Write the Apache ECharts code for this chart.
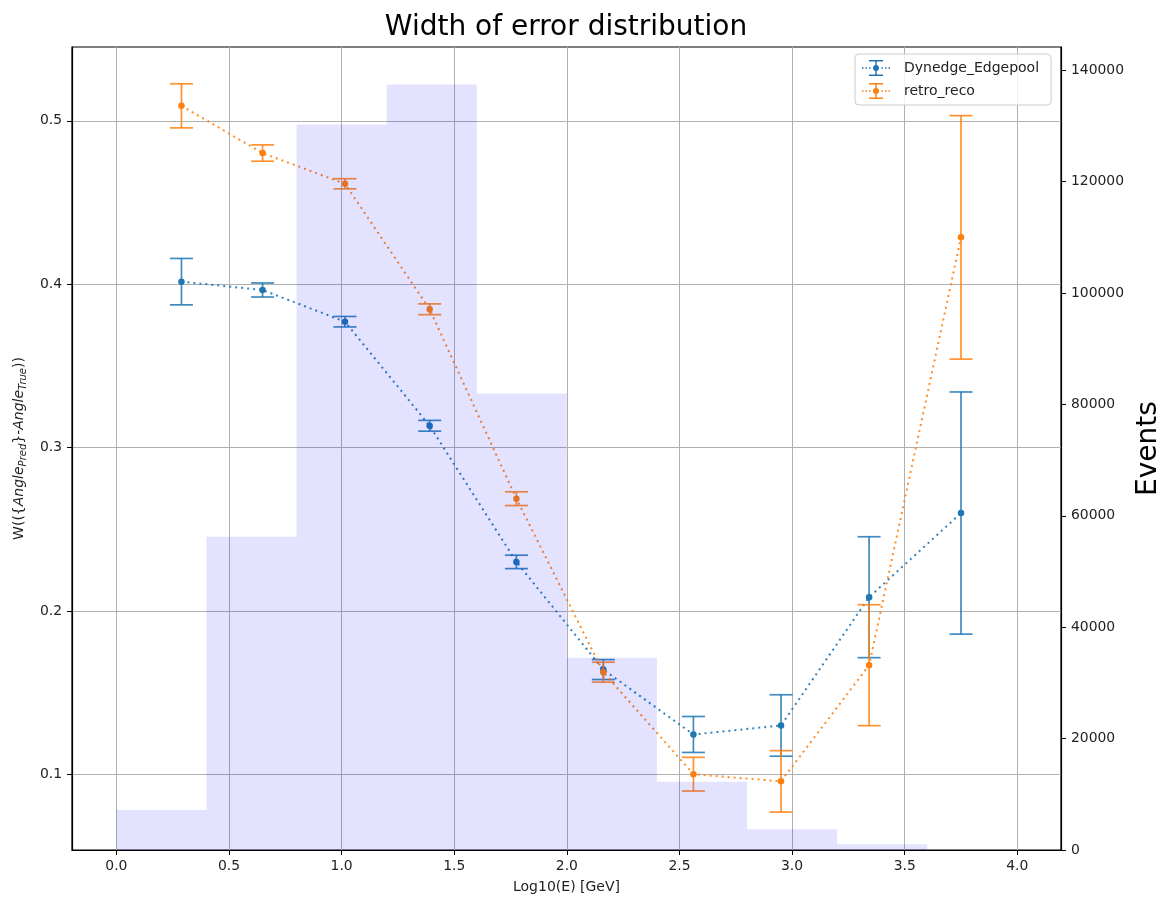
<!DOCTYPE html>
<html>
<head>
<meta charset="utf-8">
<script src="https://cdn.jsdelivr.net/npm/echarts@6/dist/echarts.min.js"></script>
<style>
  html, body { margin: 0; padding: 0; background: #fff; }
  #chart { width: 1163px; height: 900px; }
</style>
</head>
<body>
<div id="chart"></div>
<script>
// Energy bin centres, log10(E / GeV)
const energyBins = [0.289, 0.649, 1.015, 1.391, 1.776, 2.162, 2.562, 2.951, 3.342, 3.750];

// Width of the angular error distribution per bin, with its uncertainty
const dynedgeWidth = [0.4016, 0.3965, 0.3771, 0.3134, 0.2301, 0.1642, 0.1245, 0.1300, 0.2085, 0.2600];
const dynedgeErr   = [0.0142, 0.0043, 0.0032, 0.0033, 0.0041, 0.0061, 0.0110, 0.0188, 0.0370, 0.0741];
const retroWidth   = [0.5092, 0.4803, 0.4615, 0.3847, 0.2688, 0.1626, 0.1002, 0.0958, 0.1669, 0.4287];
const retroErr     = [0.0135, 0.0050, 0.0031, 0.0033, 0.0042, 0.0061, 0.0103, 0.0188, 0.0370, 0.0745];

// Event-count histogram
const histEdges  = [0.0, 0.4, 0.8, 1.2, 1.6, 2.0, 2.4, 2.8, 3.2, 3.6];
const histCounts = [7180, 56240, 130260, 137440, 81970, 34520, 12260, 3710, 1020];

// Tick positions
const xTicks     = [0.0, 0.5, 1.0, 1.5, 2.0, 2.5, 3.0, 3.5, 4.0];
const widthTicks = [0.1, 0.2, 0.3, 0.4, 0.5];
const eventTicks = [0, 20000, 40000, 60000, 80000, 100000, 120000, 140000];

const BLUE = '#1f77b4';
const ORANGE = '#ff7f0e';
const FONT = 'DejaVu Sans';

// Legend glyph: dotted line, error bar with caps, and a dot
const errIcon = 'path://' +
  'M7,0H21V1.5H7Z M7,14.5H21V16H7Z M13.25,0H14.75V16H13.25Z ' +
  'M0,7.25H1.5V8.75H0Z M3.5,7.25H5V8.75H3.5Z M7,7.25H8.5V8.75H7Z ' +
  'M19.5,7.25H21V8.75H19.5Z M23,7.25H24.5V8.75H23Z M26.5,7.25H28V8.75H26.5Z ' +
  'M11,8A3,3 0 1,1 17,8A3,3 0 1,1 11,8Z';

function errorBarRenderer(color) {
  return function (params, api) {
    const x = api.value(0);
    const top = api.coord([x, api.value(2)]);
    const bot = api.coord([x, api.value(1)]);
    const half = 11.5;
    const style = { stroke: color, lineWidth: 1.7, opacity: 0.85 };
    return {
      type: 'group',
      children: [
        { type: 'line', shape: { x1: top[0], y1: top[1], x2: bot[0], y2: bot[1] }, style },
        { type: 'line', shape: { x1: top[0] - half, y1: top[1], x2: top[0] + half, y2: top[1] }, style },
        { type: 'line', shape: { x1: bot[0] - half, y1: bot[1], x2: bot[0] + half, y2: bot[1] }, style }
      ]
    };
  };
}

function histRenderer(params, api) {
  const p0 = api.coord([api.value(0), api.value(2)]);
  const p1 = api.coord([api.value(1), 0]);
  return {
    type: 'rect',
    shape: { x: p0[0], y: p0[1], width: p1[0] - p0[0], height: p1[1] - p0[1] },
    style: { fill: 'rgba(0,0,255,0.11)' }
  };
}

const points = (ys) => energyBins.map((x, i) => [x, ys[i]]);
const bars = (ys, es) => energyBins.map((x, i) => [x, ys[i] - es[i], ys[i] + es[i]]);

const tickLabel = { fontFamily: FONT, fontSize: 13.9, color: '#222' };

const chart = echarts.init(document.getElementById('chart'), null, { renderer: 'canvas' });

chart.setOption({
  animation: false,
  backgroundColor: '#fff',
  textStyle: { fontFamily: FONT },
  grid: {
    left: 72, right: 102, top: 47, bottom: 50,
    outerBoundsMode: 'none', containLabel: false,
    show: true, borderColor: '#000', borderWidth: 1.2, backgroundColor: 'transparent'
  },
  graphic: [{
    type: 'text', x: 566, y: 28, z: 100,
    style: {
      text: 'Width of error distribution', fill: '#000',
      font: '28px "DejaVu Sans"', textAlign: 'center', textVerticalAlign: 'middle'
    }
  }],
  legend: {
    orient: 'vertical', left: 855, top: 54,
    padding: [6, 12, 6, 7], itemGap: 7, itemWidth: 28, itemHeight: 16,
    backgroundColor: 'rgba(255,255,255,0.8)', borderColor: '#cccccc', borderWidth: 1, borderRadius: 4,
    textStyle: { fontFamily: FONT, fontSize: 14, color: '#222', padding: [0, 0, 0, 9] },
    itemStyle: { borderWidth: 0 },
    data: [
      { name: 'Dynedge_Edgepool', icon: errIcon, itemStyle: { color: BLUE } },
      { name: 'retro_reco', icon: errIcon, itemStyle: { color: ORANGE } }
    ],
    z: 50
  },
  xAxis: {
    type: 'value', min: -0.197, max: 4.194,
    name: 'Log10(E) [GeV]', nameLocation: 'middle', nameGap: 30,
    nameTextStyle: { fontFamily: FONT, fontSize: 14, color: '#222' },
    axisLine: { show: true, onZero: false, lineStyle: { color: '#000', width: 1.2 } },
    axisTick: { show: true, inside: false, length: 5, customValues: xTicks, lineStyle: { color: '#000', width: 1 } },
    axisLabel: { ...tickLabel, margin: 9, customValues: xTicks, formatter: (v) => v.toFixed(1) },
    splitLine: { show: true, lineStyle: { color: '#b0b0b0', width: 1 } }
  },
  yAxis: [
    {
      type: 'value', position: 'left', min: 0.0538, max: 0.5452,
      name: 'W(({{i|Angle}{s|Pred}}-{i|Angle}{s|True}))',
      nameLocation: 'middle', nameRotate: 90, nameGap: 44,
      nameTextStyle: {
        fontFamily: FONT, fontSize: 14, color: '#222', lineHeight: 18,
        rich: {
          i: { fontFamily: FONT, fontSize: 14, fontStyle: 'italic', color: '#222' },
          s: { fontFamily: FONT, fontSize: 10, fontStyle: 'italic', color: '#222', verticalAlign: 'bottom' }
        }
      },
      axisLine: { show: true, onZero: false, lineStyle: { color: '#000', width: 1.2 } },
      axisTick: { show: true, inside: false, length: 5, customValues: widthTicks, lineStyle: { color: '#000', width: 1 } },
      axisLabel: { ...tickLabel, margin: 10, customValues: widthTicks, formatter: (v) => v.toFixed(1) },
      splitLine: { show: true, lineStyle: { color: '#b0b0b0', width: 1 } }
    },
    {
      type: 'value', position: 'right', min: 0, max: 144180,
      name: 'Events', nameLocation: 'middle', nameRotate: 90, nameGap: 70,
      nameTextStyle: { fontFamily: FONT, fontSize: 28, color: '#000' },
      axisLine: { show: true, onZero: false, lineStyle: { color: '#000', width: 1.2 } },
      axisTick: { show: true, inside: false, length: 5, customValues: eventTicks, lineStyle: { color: '#000', width: 1 } },
      axisLabel: { ...tickLabel, margin: 10, customValues: eventTicks, formatter: (v) => String(v) },
      splitLine: { show: false }
    }
  ],
  series: [
    {
      name: 'Dynedge_Edgepool', type: 'line', xAxisIndex: 0, yAxisIndex: 0, z: 3,
      data: points(dynedgeWidth),
      symbol: 'circle', symbolSize: 6.5, showSymbol: true,
      itemStyle: { color: BLUE },
      lineStyle: { color: BLUE, width: 2, type: [2, 4], opacity: 0.9 }
    },
    {
      name: 'Dynedge_Edgepool', type: 'custom', xAxisIndex: 0, yAxisIndex: 0, z: 3,
      data: bars(dynedgeWidth, dynedgeErr),
      encode: { x: 0, y: [1, 2] },
      itemStyle: { color: BLUE },
      renderItem: errorBarRenderer(BLUE)
    },
    {
      name: 'retro_reco', type: 'line', xAxisIndex: 0, yAxisIndex: 0, z: 4,
      data: points(retroWidth),
      symbol: 'circle', symbolSize: 6.5, showSymbol: true,
      itemStyle: { color: ORANGE },
      lineStyle: { color: ORANGE, width: 2, type: [2, 4], opacity: 0.9 }
    },
    {
      name: 'retro_reco', type: 'custom', xAxisIndex: 0, yAxisIndex: 0, z: 4,
      data: bars(retroWidth, retroErr),
      encode: { x: 0, y: [1, 2] },
      itemStyle: { color: ORANGE },
      renderItem: errorBarRenderer(ORANGE)
    },
    {
      name: 'Events', type: 'custom', xAxisIndex: 0, yAxisIndex: 1, z: 6,
      data: histCounts.map((c, i) => [histEdges[i], histEdges[i] + 0.4, c]),
      encode: { x: [0, 1], y: 2 },
      renderItem: histRenderer
    }
  ]
});
</script>
</body>
</html>
